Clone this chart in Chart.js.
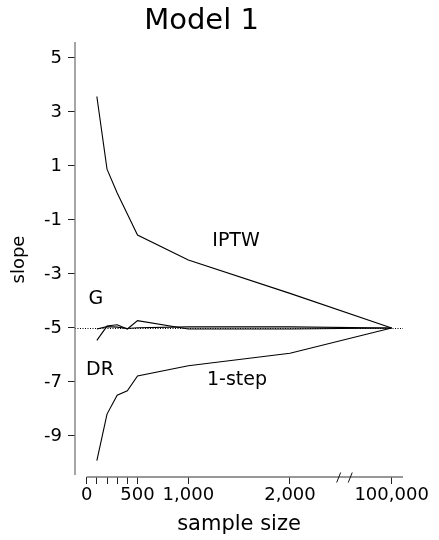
<!DOCTYPE html>
<html>
<head>
<meta charset="utf-8">
<script src="https://cdn.jsdelivr.net/npm/chart.js@4.4.0/dist/chart.umd.min.js"></script>
<style>
  html, body { margin: 0; padding: 0; background: #fff; }
</style>
</head>
<body>
<canvas id="myChart" width="439" height="540"></canvas>
<script>
const sampleSizes = [100, 200, 300, 400, 500, 1000, 2000, 100000];
const iptw    = [3.57, 0.88, 0.0, -0.78, -1.56, -2.48, -3.72, -5.0];
const gComp   = [-5.04, -4.95, -4.97, -5.02, -4.99, -4.96, -4.96, -5.0];
const dr      = [-5.46, -4.93, -4.88, -5.04, -4.73, -5.04, -5.04, -5.0];
const oneStep = [-9.91, -8.19, -7.49, -7.33, -6.78, -6.40, -5.94, -5.0];
const trueSlope = -5;

const yTicks = [-9, -7, -5, -3, -1, 1, 3, 5];
const xTicks = [0, 100, 200, 300, 400, 500, 1000, 2000, 100000];
const xTickLabels = ['0', '', '', '', '', '500', '1,000', '2,000', '100,000'];

// axis is broken after 2,000 : 100,000 is drawn where 3,000 would be
const breakAt = 2000, breakPos = 3000;
const axisPos = n => n > breakAt ? breakPos : n;

// where the series names sit (data coords)
const tags = [
  { text: 'IPTW',   x: 1469, y: -1.80 },
  { text: 'G',      x: 91,   y: -3.93 },
  { text: 'DR',     x: 131,  y: -6.56 },
  { text: '1-step', x: 1479, y: -6.93 },
];

const FONT = 'DejaVu Sans';

const series = (vals) => sampleSizes.map((n, i) => ({ x: axisPos(n), y: vals[i] }));
const lineStyle = { borderColor: '#000', borderWidth: 1.1, pointRadius: 0, tension: 0, fill: false };

const decor = {
  id: 'decor',
  beforeDatasetsDraw(chart) {
    const { ctx, chartArea: a, scales: { y } } = chart;
    const yy = Math.round(y.getPixelForValue(trueSlope)) + 0.5;
    ctx.save();
    ctx.strokeStyle = '#000';
    ctx.lineWidth = 1;
    ctx.setLineDash([1, 1.5]);
    ctx.beginPath();
    ctx.moveTo(a.left, yy);
    ctx.lineTo(a.right, yy);
    ctx.stroke();
    ctx.restore();
  },
  afterDraw(chart) {
    const { ctx, chartArea: a, scales: { x, y } } = chart;
    ctx.save();
    // axis lines, R style (not joined)
    ctx.strokeStyle = '#777';
    ctx.lineWidth = 1.3;
    ctx.beginPath();
    ctx.moveTo(a.left, a.top);
    ctx.lineTo(a.left, a.bottom - 2);
    ctx.moveTo(x.getPixelForValue(0), a.bottom);
    ctx.lineTo(a.right, a.bottom);
    ctx.stroke();
    // break marks //
    ctx.strokeStyle = '#111';
    ctx.lineWidth = 1;
    [2479, 2593].forEach(v => {
      const px = x.getPixelForValue(v);
      ctx.beginPath();
      ctx.moveTo(px - 2, a.bottom + 5.5);
      ctx.lineTo(px + 2, a.bottom - 4.5);
      ctx.stroke();
    });
    // series names
    ctx.fillStyle = '#000';
    ctx.font = '19px "' + FONT + '"';
    ctx.textAlign = 'center';
    ctx.textBaseline = 'middle';
    tags.forEach(t => ctx.fillText(t.text, x.getPixelForValue(t.x), y.getPixelForValue(t.y)));
    ctx.restore();
  }
};

const data = {
  datasets: [
    { label: 'IPTW',   data: series(iptw),    ...lineStyle },
    { label: 'G',      data: series(gComp),   ...lineStyle },
    { label: 'DR',     data: series(dr),      ...lineStyle },
    { label: '1-step', data: series(oneStep), ...lineStyle },
  ]
};

const config = {
  type: 'line',
  data: data,
  plugins: [decor],
  options: {
    responsive: false,
    animation: false,
    layout: { padding: { left: 0, right: 36, top: 0, bottom: 0 } },
    plugins: {
      legend: { display: false },
      tooltip: { enabled: false },
      title: {
        display: true,
        text: 'Model 1',
        color: '#000',
        font: { family: FONT, size: 29, weight: 'normal' },
        padding: { top: 4, bottom: 3.2 }
      }
    },
    scales: {
      x: {
        type: 'linear',
        min: -115,
        max: 3112,
        afterFit: s => { s.height = 63; },
        afterBuildTicks: s => { s.ticks = xTicks.map(v => ({ value: axisPos(v) })); },
        ticks: {
          autoSkip: false,
          maxRotation: 0,
          minRotation: 0,
          padding: 1,
          color: '#000',
          font: { family: FONT, size: 18 },
          callback: (v, i) => xTickLabels[i]
        },
        grid: { drawOnChartArea: false, tickLength: 7, color: '#222' },
        border: { display: false },
        title: {
          display: true,
          text: 'sample size',
          color: '#000',
          font: { family: FONT, size: 21 },
          padding: { top: 0, bottom: 2.4 }
        }
      },
      y: {
        min: -10.52,
        max: 5.59,
        afterFit: s => { s.width = 75; },
        afterBuildTicks: s => { s.ticks = yTicks.map(v => ({ value: v })); },
        ticks: {
          padding: 6,
          color: '#000',
          font: { family: FONT, size: 18 }
        },
        grid: { drawOnChartArea: false, tickLength: 7, color: '#222' },
        border: { display: false },
        title: {
          display: true,
          text: 'slope',
          color: '#000',
          font: { family: FONT, size: 18 },
          padding: { top: 9, bottom: 0 }
        }
      }
    }
  }
};

const myChart = new Chart(document.getElementById('myChart'), config);
</script>
</body>
</html>
